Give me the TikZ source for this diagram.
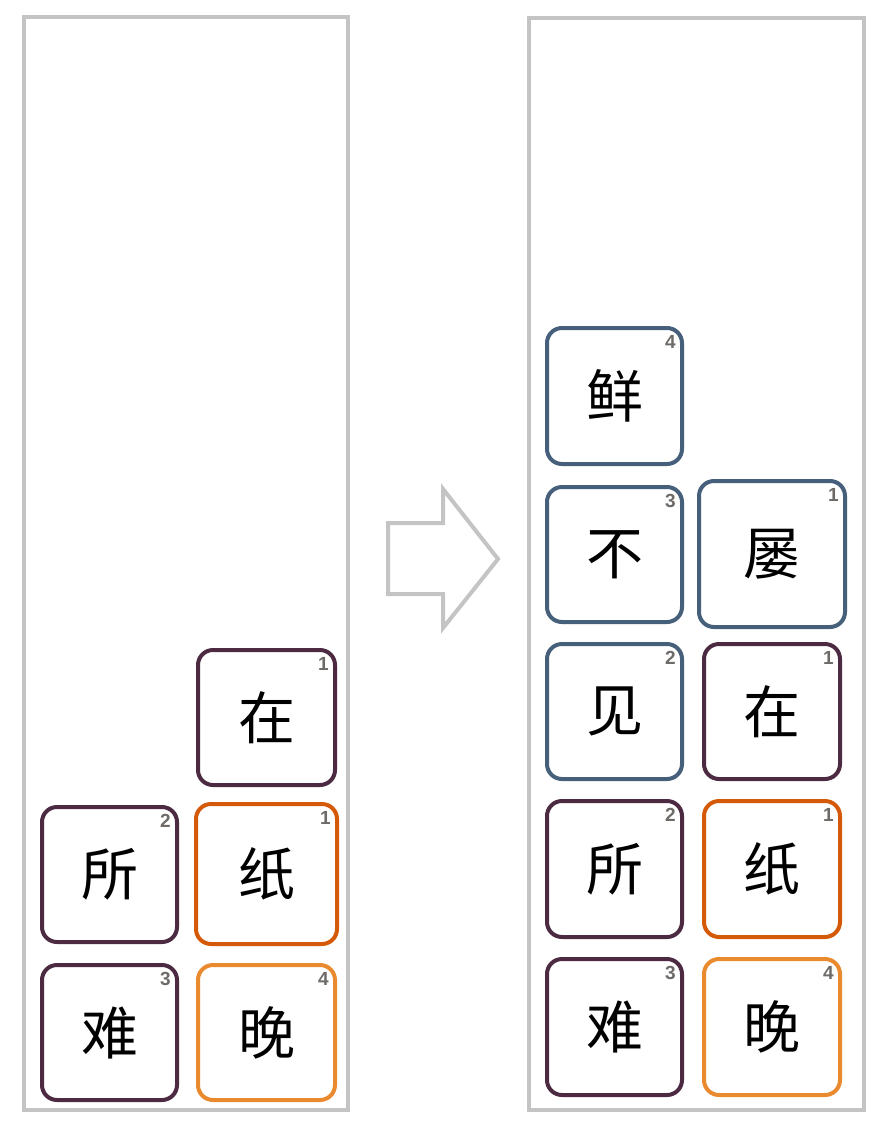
\documentclass[tikz,border=0pt]{standalone}
\usepackage{fontspec}
\newfontfamily\cjk{Noto Sans CJK SC}
\newfontfamily\numf{Liberation Sans}[BoldFont={Liberation Sans Bold}]
\definecolor{panelgray}{HTML}{C4C4C4}
\definecolor{tpurple}{HTML}{4B2A42}
\definecolor{tblue}{HTML}{465F7B}
\definecolor{tdorange}{HTML}{D45A0A}
\definecolor{tlorange}{HTML}{EA8A2E}
\definecolor{numgray}{HTML}{6E6A68}
\tikzset{
  panel/.style={draw=panelgray, line width=4pt},
  tilebox/.style={draw=#1, line width=4pt, rounded corners=15pt, fill=white, inner sep=0pt,
    font=\cjk\fontsize{57}{57}\selectfont, text=black},
  tilenum/.style={font=\numf\bfseries\fontsize{19}{19}\selectfont, text=numgray, inner sep=0pt, anchor=north east},
  bigarrow/.style={draw=panelgray, line width=4pt, line join=miter}
}
% \tile{name}{x1}{y1}{x2}{y2}{color}{char}{num}
\newcommand{\tile}[8]{%
  \node[tilebox=#6, minimum width={#4pt-#2pt}, minimum height={#5pt-#3pt}] (#1) at ({(#2+#4)/2},{(#3+#5)/2}) {#7};
  \node[tilenum] (#1n) at ([xshift=-8pt,yshift=-9pt]#1.north east) {#8};
}
\begin{document}
\begin{tikzpicture}[x=1pt,y=-1pt]
\useasboundingbox (0,0) rectangle (884,1130);
% panels
\node[panel, minimum width=324pt, minimum height=1093pt, inner sep=0pt] (lp) at (186,563.5) {};
\node[panel, minimum width=335pt, minimum height=1092pt, inner sep=0pt] (rp) at (696.5,564) {};
% arrow
\coordinate (a1) at (388,523);
\coordinate (a2) at (443,523);
\coordinate (a3) at (443,489);
\coordinate (a4) at (498,559);
\coordinate (a5) at (443,628);
\coordinate (a6) at (443,594);
\coordinate (a7) at (388,594);
\draw[bigarrow] (a1) -- (a2) -- (a3) -- (a4) -- (a5) -- (a6) -- (a7) -- cycle;
% left tiles
\tile{lzai}{198}{650}{335}{785}{tpurple}{在}{1}
\tile{lsuo}{42}{807}{177}{942}{tpurple}{所}{2}
\tile{lzhi}{196}{804}{337}{944}{tdorange}{纸}{1}
\tile{lnan}{42}{965}{177}{1100}{tpurple}{难}{3}
\tile{lwan}{198}{965}{335}{1100}{tlorange}{晚}{4}
% right tiles
\tile{rxian}{547}{328}{682}{464}{tblue}{鲜}{4}
\tile{rbu}{547}{487}{682}{622}{tblue}{不}{3}
\tile{rlv}{699}{481}{845}{627}{tblue}{屡}{1}
\tile{rjian}{547}{644}{682}{779}{tblue}{见}{2}
\tile{rzai}{704}{644}{840}{779}{tpurple}{在}{1}
\tile{rsuo}{547}{801}{682}{937}{tpurple}{所}{2}
\tile{rzhi}{704}{801}{840}{937}{tdorange}{纸}{1}
\tile{rnan}{547}{959}{682}{1095}{tpurple}{难}{3}
\tile{rwan}{704}{959}{840}{1095}{tlorange}{晚}{4}
\end{tikzpicture}
\end{document}
